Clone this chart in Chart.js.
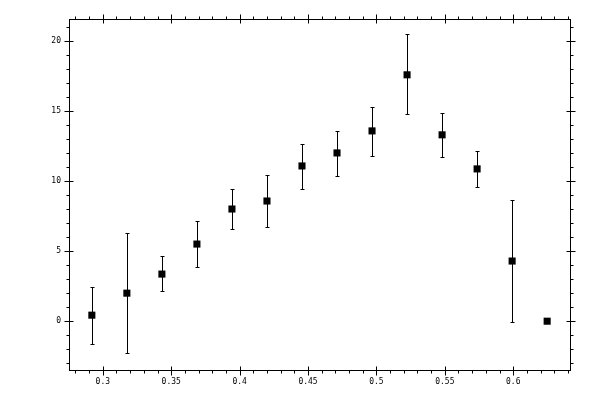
<!DOCTYPE html>
<html>
<head>
<meta charset="utf-8">
<script src="https://cdn.jsdelivr.net/npm/chart.js@4/dist/chart.umd.min.js"></script>
<style>
  html, body { margin: 0; padding: 0; background: #fff; }
  #wrap { width: 600px; height: 400px; }
</style>
</head>
<body>
<div id="wrap"><canvas id="chart" width="600" height="400"></canvas></div>
<script>
// data
const xVals = [0.292, 0.3176, 0.3432, 0.3688, 0.3944, 0.42, 0.4456, 0.4712, 0.4968, 0.5224, 0.548, 0.5736, 0.5992, 0.6248];
const yVals = [0.43, 2.0, 3.36, 5.5, 8.0, 8.57, 11.07, 12.0, 13.57, 17.57, 13.29, 10.86, 4.29, 0];
const yHigh = [2.43, 6.29, 4.62, 7.14, 9.43, 10.45, 12.64, 13.57, 15.29, 20.45, 14.86, 12.12, 8.64, null];
const yLow = [-1.64, -2.29, 2.14, 3.86, 6.57, 6.71, 9.43, 10.36, 11.79, 14.79, 11.71, 9.57, -0.07, null];

// axis ticks
const xMajor = [0.3, 0.35, 0.4, 0.45, 0.5, 0.55, 0.6];
const yMajor = [0, 5, 10, 15, 20];
const xRange = [0.2753, 0.6415];
const yRange = [-3.48, 21.55];
const xMinorStep = 0.01;
const yMinorStep = 1;

const isMajor = (v, list) => list.some(m => Math.abs(m - v) < 1e-6);

function minorTicks(range, step) {
    const out = [];
    for (let v = Math.ceil(range[0] / step) * step; v <= range[1] + 1e-9; v += step) {
        out.push({value: Math.round(v / step) * step});
    }
    return out;
}

// frame + tick marks on all four sides
const frameTicks = {
    id: 'frameTicks',
    afterDraw(chart) {
        const {ctx, chartArea: a, scales: {x, y}} = chart;
        const L = Math.round(a.left) + 0.5, R = Math.round(a.right) + 0.5;
        const T = Math.round(a.top) + 0.5, B = Math.round(a.bottom) + 0.5;
        ctx.save();
        ctx.strokeStyle = '#000';
        ctx.lineWidth = 1;
        ctx.strokeRect(L, T, R - L, B - T);
        ctx.beginPath();
        x.ticks.forEach(t => {
            const px = Math.round(x.getPixelForValue(t.value)) + 0.5;
            const maj = isMajor(t.value, xMajor);
            const inn = maj ? 4 : 0, out = maj ? 5 : 3;
            ctx.moveTo(px, B - inn); ctx.lineTo(px, B + out);
            ctx.moveTo(px, T + inn); ctx.lineTo(px, T - out);
        });
        y.ticks.forEach(t => {
            const py = Math.round(y.getPixelForValue(t.value)) + 0.5;
            const maj = isMajor(t.value, yMajor);
            const inn = maj ? 4 : 0, out = maj ? 5 : 3;
            ctx.moveTo(L + inn, py); ctx.lineTo(L - out, py);
            ctx.moveTo(R - inn, py); ctx.lineTo(R + out, py);
        });
        ctx.stroke();
        ctx.restore();
    }
};

// vertical error bars with small caps
const errorBars = {
    id: 'errorBars',
    beforeDatasetsDraw(chart) {
        const {ctx, scales: {x, y}} = chart;
        ctx.save();
        ctx.strokeStyle = '#000';
        ctx.lineWidth = 1;
        ctx.beginPath();
        xVals.forEach((xv, i) => {
            if (yHigh[i] == null || yLow[i] == null) return;
            const px = Math.round(x.getPixelForValue(xv)) + 0.5;
            const top = Math.round(y.getPixelForValue(yHigh[i])) + 0.5;
            const bot = Math.round(y.getPixelForValue(yLow[i])) + 0.5;
            ctx.moveTo(px, top); ctx.lineTo(px, bot);
            ctx.moveTo(px - 2, top); ctx.lineTo(px + 2, top);
            ctx.moveTo(px - 2, bot); ctx.lineTo(px + 2, bot);
        });
        ctx.stroke();
        ctx.restore();
    }
};

const tickFont = {family: 'DejaVu Sans Mono', size: 8};

new Chart(document.getElementById('chart').getContext('2d'), {
    type: 'scatter',
    data: {
        datasets: [{
            data: xVals.map((x, i) => ({x, y: yVals[i]})),
            pointStyle: 'rect',
            radius: 5,
            backgroundColor: '#000',
            borderColor: '#000',
            borderWidth: 0
        }]
    },
    options: {
        responsive: false,
        animation: false,
        layout: {padding: {left: 0, right: 30, top: 19, bottom: 0}},
        plugins: {legend: {display: false}, tooltip: {enabled: false}},
        scales: {
            x: {
                type: 'linear',
                min: xRange[0], max: xRange[1],
                afterBuildTicks: axis => { axis.ticks = minorTicks(xRange, xMinorStep); },
                afterFit: axis => { axis.height = 30; },
                grid: {display: false, drawTicks: false},
                border: {display: false},
                ticks: {
                    autoSkip: false, maxRotation: 0, padding: 7,
                    color: '#000', font: tickFont,
                    callback: v => isMajor(v, xMajor) ? String(+v.toFixed(2)) : ''
                }
            },
            y: {
                type: 'linear',
                min: yRange[0], max: yRange[1],
                afterBuildTicks: axis => { axis.ticks = minorTicks(yRange, yMinorStep); },
                afterFit: axis => { axis.width = 69; },
                grid: {display: false, drawTicks: false},
                border: {display: false},
                ticks: {
                    autoSkip: false, padding: 8,
                    color: '#000', font: tickFont,
                    callback: v => isMajor(v, yMajor) ? String(Math.round(v)) : ''
                }
            }
        }
    },
    plugins: [errorBars, frameTicks]
});
</script>
</body>
</html>
